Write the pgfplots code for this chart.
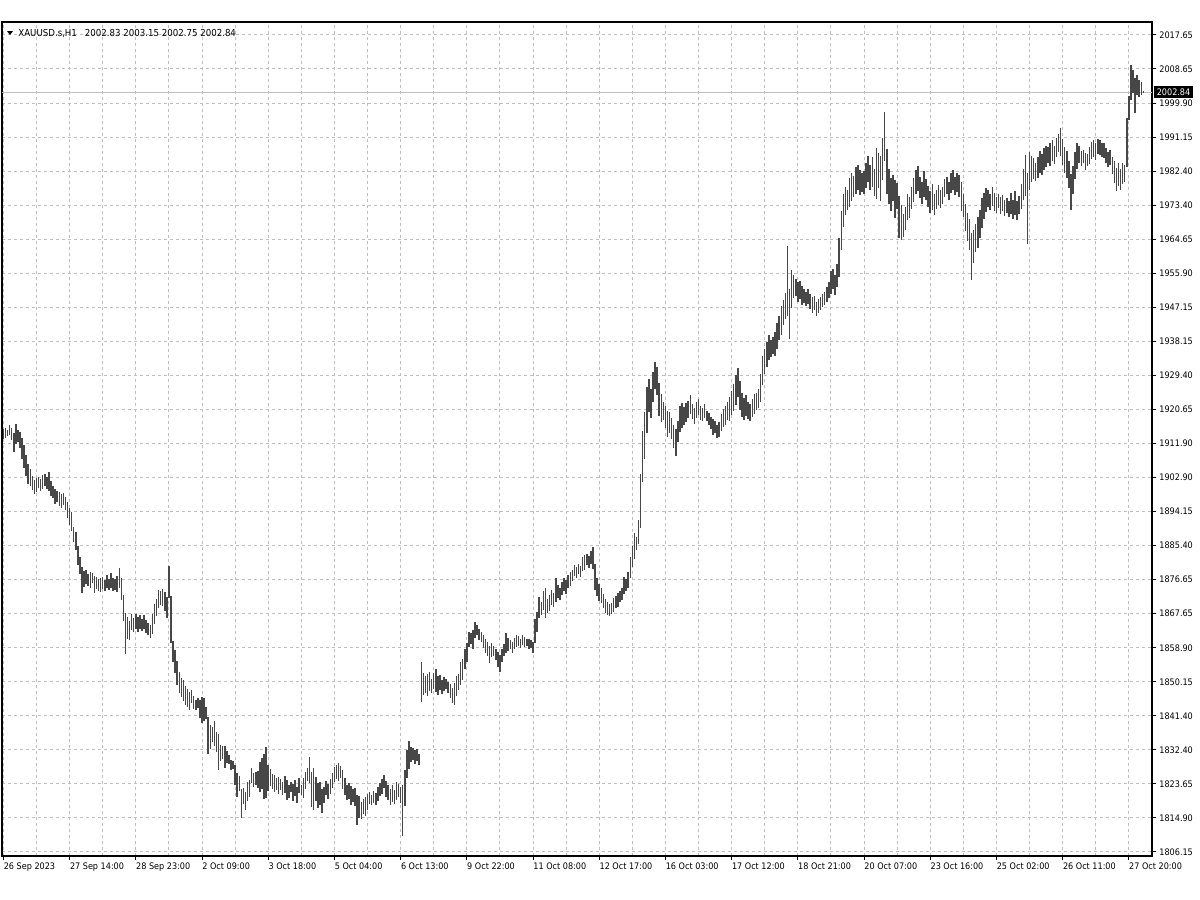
\documentclass[border=0pt]{standalone}
\usepackage{fontspec}
\setmainfont{DejaVu Sans Condensed}
\usepackage{pgfplots}
\usepackage{pgfplotstable}
\pgfplotsset{compat=1.18}

% XAUUSD H1 bars: low / high, one row per hour bar
\pgfplotstableread{
lo hi
1913.0 1915.6
1913.4 1915.9
1913.9 1915.3
1914.2 1916.6
1912.8 1915.8
1909.6 1914.6
1911.9 1917.0
1912.3 1915.4
1910.6 1914.9
1907.9 1913.2
1905.6 1911.4
1903.4 1909.0
1901.3 1906.5
1900.9 1905.2
1899.8 1903.6
1898.8 1902.4
1899.4 1902.9
1900.3 1903.3
1899.6 1902.6
1900.2 1903.8
1900.8 1904.1
1900.0 1903.2
1899.6 1904.5
1898.4 1902.3
1897.9 1901.0
1896.3 1900.2
1896.8 1899.6
1895.8 1899.4
1895.3 1898.9
1895.9 1899.2
1894.8 1898.0
1892.6 1896.8
1890.9 1895.1
1889.3 1894.2
1886.5 1890.4
1884.4 1889.1
1880.4 1885.3
1878.2 1882.5
1873.2 1880.0
1874.8 1878.9
1875.6 1879.1
1875.0 1878.0
1874.6 1878.6
1875.8 1878.4
1873.2 1877.6
1874.3 1877.3
1873.6 1876.8
1873.4 1877.0
1874.2 1877.4
1873.8 1876.6
1874.6 1877.8
1874.0 1876.9
1874.5 1878.3
1873.7 1877.1
1874.1 1876.8
1873.5 1877.5
1874.4 1879.7
1871.4 1877.0
1866.0 1872.6
1857.5 1868.0
1861.4 1867.1
1861.0 1866.0
1863.6 1867.7
1863.2 1866.6
1863.9 1867.8
1863.0 1866.9
1863.8 1867.4
1863.4 1866.5
1864.0 1867.6
1862.8 1866.2
1862.3 1865.5
1861.5 1865.0
1862.6 1867.8
1865.2 1870.4
1867.3 1871.6
1869.4 1874.0
1870.1 1873.6
1869.8 1874.1
1868.6 1873.4
1866.6 1872.2
1871.8 1880.1
1860.2 1872.3
1855.3 1860.8
1852.6 1858.4
1849.4 1855.6
1847.2 1852.8
1846.4 1851.3
1845.3 1850.6
1844.1 1849.0
1843.6 1848.3
1843.0 1847.5
1844.6 1848.2
1843.2 1846.5
1842.9 1845.6
1843.4 1846.0
1840.8 1845.5
1839.6 1846.3
1840.1 1846.1
1840.6 1843.6
1831.5 1841.2
1832.8 1839.0
1834.5 1838.6
1833.6 1840.0
1832.0 1837.2
1827.5 1836.8
1829.6 1833.8
1830.2 1833.6
1828.0 1833.7
1829.3 1832.2
1828.9 1831.2
1827.4 1830.0
1827.6 1829.8
1823.6 1828.6
1820.4 1826.5
1822.0 1825.8
1815.0 1822.4
1818.6 1822.6
1817.0 1821.6
1819.4 1824.3
1820.3 1824.8
1823.9 1827.8
1823.0 1826.6
1823.6 1826.9
1822.8 1827.2
1821.6 1829.4
1822.4 1830.6
1819.8 1831.5
1820.2 1833.4
1822.0 1828.6
1823.2 1827.7
1822.4 1826.4
1821.6 1826.1
1822.3 1825.4
1821.3 1825.6
1822.1 1825.0
1820.8 1824.4
1821.4 1825.8
1819.6 1824.8
1820.2 1823.6
1821.8 1824.2
1819.4 1823.8
1820.6 1824.9
1818.8 1823.1
1821.5 1825.4
1820.9 1823.6
1820.2 1825.2
1822.4 1826.8
1824.6 1828.0
1823.9 1830.7
1817.8 1826.9
1817.1 1828.0
1819.3 1825.6
1817.6 1823.9
1818.2 1824.2
1816.2 1822.5
1818.9 1823.1
1820.8 1824.5
1819.9 1823.8
1821.1 1825.0
1822.6 1826.7
1824.2 1828.2
1825.0 1828.6
1824.6 1829.2
1825.3 1828.4
1822.4 1827.3
1821.0 1825.2
1819.5 1823.6
1819.8 1824.0
1818.4 1823.2
1819.0 1822.4
1818.0 1822.6
1813.2 1821.0
1815.0 1820.6
1814.6 1819.2
1816.0 1819.8
1815.4 1820.4
1817.0 1821.1
1818.6 1821.6
1818.2 1820.9
1818.8 1822.0
1818.4 1821.4
1819.4 1823.0
1820.6 1823.9
1821.2 1825.0
1822.6 1826.0
1820.4 1824.6
1819.6 1823.4
1818.2 1822.5
1819.0 1823.6
1818.6 1822.2
1819.6 1824.2
1820.4 1823.8
1818.8 1822.9
1810.4 1823.4
1818.0 1827.4
1825.4 1832.6
1827.6 1834.8
1829.4 1833.4
1830.1 1833.0
1828.9 1832.6
1829.8 1832.8
1828.6 1831.6
1845.0 1855.3
1846.8 1852.6
1847.4 1851.8
1846.6 1852.2
1847.9 1852.8
1847.2 1851.0
1848.4 1852.4
1847.6 1853.6
1846.8 1851.8
1848.2 1852.0
1847.0 1850.6
1847.8 1851.4
1848.4 1851.0
1847.3 1850.2
1846.0 1849.6
1844.6 1848.6
1844.2 1849.8
1846.6 1851.6
1848.0 1852.2
1849.4 1855.3
1850.6 1856.0
1853.6 1858.6
1855.4 1860.2
1859.2 1863.2
1860.0 1862.8
1858.6 1863.6
1861.6 1865.7
1862.2 1864.8
1861.0 1864.0
1860.4 1863.2
1859.0 1862.4
1857.6 1861.4
1856.8 1860.6
1855.2 1859.4
1856.6 1860.2
1857.0 1859.6
1855.8 1858.8
1854.0 1858.0
1852.8 1857.2
1855.4 1858.6
1856.8 1860.0
1857.8 1862.8
1858.2 1861.6
1858.6 1861.0
1857.8 1860.6
1858.6 1861.6
1859.2 1862.3
1859.6 1862.0
1859.0 1861.4
1859.8 1862.2
1859.2 1861.8
1859.6 1861.4
1858.6 1861.2
1858.9 1861.0
1857.8 1860.4
1860.2 1866.6
1863.2 1868.3
1866.8 1872.2
1867.4 1871.0
1868.8 1873.6
1866.8 1874.4
1867.9 1871.6
1868.6 1872.8
1870.0 1874.0
1869.6 1873.2
1870.8 1877.1
1872.0 1875.4
1871.4 1874.6
1872.8 1876.0
1873.6 1877.2
1873.0 1876.6
1874.4 1877.8
1875.0 1878.6
1876.2 1879.2
1877.6 1880.4
1877.2 1880.0
1878.0 1880.8
1877.4 1880.2
1878.8 1882.6
1879.2 1883.0
1880.4 1883.4
1879.8 1882.8
1880.6 1884.0
1879.4 1885.1
1874.0 1880.6
1872.4 1877.2
1871.0 1875.4
1870.6 1874.6
1869.4 1873.0
1868.0 1871.6
1867.6 1870.8
1867.2 1870.4
1867.8 1870.6
1868.4 1871.8
1869.2 1872.4
1869.6 1873.2
1870.8 1873.8
1871.4 1874.6
1873.0 1877.3
1873.6 1876.8
1874.4 1878.6
1877.2 1882.6
1880.0 1885.4
1882.0 1888.7
1884.2 1887.6
1886.0 1892.0
1890.0 1904.0
1902.0 1915.0
1908.0 1920.0
1914.6 1926.4
1920.0 1928.6
1918.4 1926.0
1922.6 1930.4
1926.0 1932.9
1924.4 1931.6
1919.0 1927.6
1917.4 1924.8
1918.0 1922.6
1916.0 1921.6
1913.6 1920.4
1914.6 1920.0
1913.0 1918.4
1910.6 1916.8
1908.6 1915.6
1912.4 1917.6
1914.8 1921.6
1916.0 1922.4
1916.6 1921.4
1917.4 1922.4
1918.6 1922.8
1919.6 1924.4
1918.2 1922.0
1917.0 1921.2
1918.4 1922.6
1919.2 1923.4
1918.0 1921.6
1917.6 1921.0
1918.6 1922.0
1917.8 1920.4
1916.6 1919.8
1915.6 1918.8
1914.2 1918.2
1914.6 1917.6
1913.2 1916.8
1913.6 1917.4
1915.0 1919.6
1916.2 1920.8
1916.8 1921.6
1918.0 1922.6
1917.6 1923.8
1919.4 1925.6
1920.4 1927.4
1921.8 1929.6
1924.0 1931.4
1920.6 1928.0
1918.8 1925.0
1918.0 1923.6
1919.0 1924.4
1918.2 1922.6
1917.6 1922.0
1918.8 1923.4
1919.6 1924.8
1920.6 1925.0
1921.0 1926.0
1922.6 1930.0
1927.0 1934.6
1930.0 1936.4
1931.6 1938.2
1933.6 1940.0
1934.2 1938.6
1935.0 1939.4
1934.6 1940.8
1936.4 1943.0
1938.6 1945.0
1940.0 1947.6
1942.6 1949.0
1944.2 1950.8
1945.0 1963.0
1939.0 1952.0
1947.0 1956.8
1949.6 1955.4
1950.0 1954.6
1948.6 1953.8
1949.4 1954.0
1947.8 1952.6
1948.4 1951.8
1947.4 1951.0
1948.0 1952.0
1946.8 1950.6
1945.6 1949.8
1946.4 1950.2
1945.0 1948.6
1945.6 1949.4
1946.4 1949.8
1947.2 1950.6
1947.8 1951.2
1948.6 1952.4
1949.6 1953.6
1950.6 1956.6
1952.0 1957.2
1950.4 1955.6
1952.4 1958.4
1955.0 1965.0
1962.0 1972.0
1968.0 1976.4
1971.0 1978.2
1972.4 1977.6
1973.0 1980.6
1974.6 1982.0
1975.8 1981.2
1976.6 1983.4
1977.4 1984.0
1976.2 1982.6
1977.0 1981.8
1976.4 1982.4
1978.0 1984.6
1979.6 1986.4
1977.6 1984.0
1978.2 1986.0
1976.0 1983.0
1975.2 1988.4
1978.0 1987.0
1974.6 1986.4
1980.0 1991.0
1985.0 1997.7
1976.4 1988.0
1974.0 1983.0
1972.0 1980.6
1974.6 1981.4
1970.2 1980.0
1972.6 1979.4
1965.0 1976.0
1964.6 1973.6
1965.4 1971.2
1967.2 1973.0
1969.8 1976.4
1970.2 1975.6
1972.6 1978.2
1974.4 1980.6
1976.6 1982.6
1977.2 1983.8
1975.4 1981.0
1974.0 1979.6
1975.6 1982.4
1974.8 1980.4
1973.0 1978.6
1971.6 1977.2
1972.4 1979.0
1971.0 1976.4
1972.6 1977.6
1973.6 1978.8
1972.8 1977.4
1974.0 1978.4
1975.6 1980.4
1976.4 1981.0
1975.0 1979.6
1976.8 1981.8
1977.4 1982.6
1976.2 1980.8
1977.0 1982.0
1975.6 1981.4
1972.0 1979.6
1970.6 1976.4
1967.0 1974.0
1964.4 1971.6
1962.0 1970.0
1954.2 1966.4
1958.6 1967.2
1961.4 1968.6
1962.6 1970.6
1965.0 1972.4
1967.6 1975.4
1970.0 1976.8
1971.8 1978.0
1973.0 1977.4
1972.4 1976.6
1973.4 1978.2
1972.0 1976.8
1971.6 1975.8
1972.8 1976.4
1971.4 1975.6
1972.0 1976.2
1970.8 1975.0
1971.6 1975.4
1970.6 1974.6
1971.4 1976.8
1970.0 1975.0
1971.0 1977.2
1969.8 1974.6
1971.2 1976.0
1972.6 1979.0
1975.0 1983.0
1976.0 1986.6
1963.6 1982.0
1977.4 1987.4
1979.6 1986.4
1980.4 1985.8
1979.8 1984.6
1980.6 1986.0
1982.0 1987.6
1981.4 1986.8
1982.6 1988.4
1983.4 1989.0
1984.6 1988.6
1983.8 1989.6
1985.0 1990.4
1984.2 1989.0
1986.0 1991.0
1987.4 1992.0
1986.2 1993.6
1984.0 1990.6
1982.0 1988.6
1980.6 1987.6
1978.0 1985.0
1972.3 1981.6
1976.4 1983.6
1980.4 1987.4
1983.0 1989.6
1984.6 1988.8
1983.6 1987.6
1984.4 1988.0
1982.8 1987.0
1983.6 1986.8
1984.2 1988.6
1985.6 1990.0
1986.0 1990.4
1985.4 1989.6
1986.8 1990.8
1986.6 1990.4
1986.0 1989.8
1985.8 1989.6
1984.6 1988.4
1983.6 1987.4
1984.0 1987.8
1981.6 1986.0
1979.4 1985.0
1977.2 1983.2
1978.6 1984.4
1977.6 1983.0
1979.0 1984.6
1979.6 1984.0
1983.5 1996.2
1995.6 2001.8
2000.8 2009.9
2002.6 2008.6
1997.5 2006.4
2002.0 2007.4
2001.6 2006.0
2002.2 2005.4
2002.75 2003.15
}\bars

\begin{document}
\begin{tikzpicture}
\begin{axis}[
    at={(1pt,-428pt)}, anchor=south west,
    scale only axis,
    width=575pt, height=417pt,
    xmin=-0.68, xmax=555.2,
    ymin=1805.11, ymax=2021.0,
    clip=false,
    axis line style={black, line width=0.55pt},
    xtick={0,32,64,96,128,160,192,224,256,288,320,352,384,416,448,480,512,544},
    xticklabels={26 Sep 2023,27 Sep 14:00,28 Sep 23:00,2 Oct 09:00,3 Oct 18:00,5 Oct 04:00,6 Oct 13:00,9 Oct 22:00,11 Oct 08:00,12 Oct 17:00,16 Oct 03:00,17 Oct 12:00,18 Oct 21:00,20 Oct 07:00,23 Oct 16:00,25 Oct 02:00,26 Oct 11:00,27 Oct 20:00},
    minor xtick={16,48,80,112,144,176,208,240,272,304,336,368,400,432,464,496,528},
    ytick={1806.15,1814.9625,1823.775,1832.5875,1841.4,1850.2125,1859.025,1867.8375,1876.65,1885.4625,1894.275,1903.0875,1911.9,1920.7125,1929.525,1938.3375,1947.15,1955.9625,1964.775,1973.5875,1982.4,1991.2125,2000.025,2008.8375,2017.65},
    yticklabels={1806.15,1814.90,1823.65,1832.40,1841.40,1850.15,1858.90,1867.65,1876.65,1885.40,1894.15,1902.90,1911.90,1920.65,1929.40,1938.15,1947.15,1955.90,1964.65,1973.40,1982.40,1991.15,1999.90,2008.65,2017.65},
    xmajorgrids, xminorgrids, ymajorgrids,
    grid style={black!25, dash pattern=on 1.5pt off 1.5pt, line width=0.5pt},
    minor grid style={black!25, dash pattern=on 1.5pt off 1.5pt, line width=0.5pt},
    tick align=outside,
    xtick pos=bottom, ytick pos=right, yticklabel pos=right,
    major tick length=2pt, minor tick length=0pt,
    tick style={black, line width=0.5pt},
    /pgf/number format/assume math mode=true,
    tick label style={font=\fontsize{4.5}{5}\selectfont, inner sep=0pt, text=black},
    xticklabel style={anchor=north west, yshift=-1pt},
    yticklabel style={anchor=west, xshift=1.5pt},
]
\draw[black!25, line width=0.5pt] (axis cs:-0.68,2002.84) -- (axis cs:555.2,2002.84);
\addplot[draw=none, mark=none, forget plot,
    error bars/.cd, y dir=both, y explicit, error mark=none,
    error bar style={draw=black!72, line width=0.75pt}]
    table[x expr=\coordindex,
          y expr=(\thisrow{lo}+\thisrow{hi})/2,
          y error expr=(\thisrow{hi}-\thisrow{lo})/2] {\bars};
\node[fill=black, text=white, anchor=west, inner xsep=1.2pt, inner ysep=1.2pt,
      font=\fontsize{4.5}{5}\selectfont, xshift=1pt]
      at (axis cs:555.2,2002.84) {2002.84};
\end{axis}
\begin{scope}[x=0.5pt, y=-0.5pt]
\fill[black] (7,31) -- (13,31) -- (10,35) -- cycle;
\node[anchor=west, inner sep=0pt, font=\fontsize{4.8}{5}\selectfont] at (18,33)
    {XAUUSD.s,H1\hspace{4pt}2002.83 2003.15 2002.75 2002.84};
\end{scope}
\pgfresetboundingbox
\path[use as bounding box] (0,0) rectangle (600pt,-450pt);
\end{tikzpicture}
\end{document}
